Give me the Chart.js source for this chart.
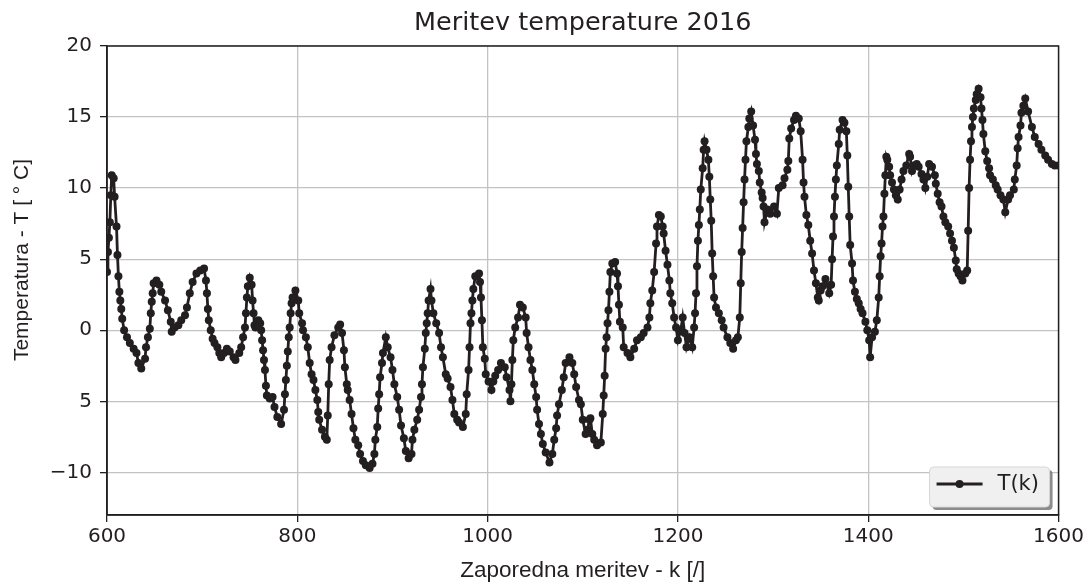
<!DOCTYPE html>
<html>
<head>
<meta charset="utf-8">
<script src="https://cdn.jsdelivr.net/npm/chart.js@4.4.1/dist/chart.umd.min.js"></script>
<style>
html, body { margin: 0; padding: 0; background: #fff; }
#wrap { width: 1087px; height: 585px; }
</style>
</head>
<body>
<div id="wrap"><canvas id="tempChart"></canvas></div>
<script>
const kValues = [
  600, 601, 602, 603, 604, 605, 607, 608, 610, 611, 612, 613, 614, 615, 616, 618, 621, 624, 628, 631,
  633, 636, 640, 641, 643, 645, 646, 647, 648, 649, 652, 655, 657, 661, 664, 667, 668, 671, 675, 678,
  682, 684, 687, 690, 694, 698, 702, 704, 705, 706, 707, 709, 711, 713, 716, 718, 720, 723, 726, 729,
  733, 735, 739, 741, 743, 745, 746, 747, 748, 750, 752, 753, 754, 755, 756, 759, 761, 762, 763, 764,
  765, 766, 767, 768, 771, 774, 776, 779, 783, 786, 787, 788, 789, 790, 791, 792, 793, 794, 795, 798,
  801, 802, 805, 806, 809, 811, 813, 815, 817, 819, 821, 822, 823, 826, 829, 831, 832, 833, 834, 836,
  839, 843, 845, 847, 849, 850, 852, 853, 855, 857, 859, 861, 864, 866, 869, 872, 876, 879, 881, 882,
  884, 885, 886, 887, 889, 890, 893, 895, 898, 900, 902, 905, 907, 909, 912, 914, 917, 920, 921, 923,
  926, 928, 930, 931, 932, 934, 935, 936, 937, 938, 940, 941, 943, 946, 949, 951, 953, 956, 958, 961,
  963, 965, 968, 970, 974, 977, 978, 980, 981, 982, 983, 984, 985, 987, 991, 992, 993, 994, 995, 997,
  998, 1001, 1004, 1006, 1008, 1011, 1014, 1018, 1020, 1023, 1024, 1025, 1026, 1027, 1029, 1032, 1034, 1037, 1040, 1041,
  1043, 1045, 1047, 1049, 1051, 1052, 1054, 1056, 1058, 1061, 1065, 1068, 1070, 1072, 1073, 1075, 1078, 1080, 1082, 1086,
  1089, 1091, 1093, 1096, 1098, 1100, 1103, 1105, 1107, 1108, 1110, 1112, 1115, 1119, 1121, 1122, 1123, 1124, 1125, 1126,
  1127, 1128, 1129, 1131, 1134, 1136, 1137, 1138, 1139, 1142, 1143, 1147, 1150, 1154, 1157, 1161, 1164, 1168, 1170, 1171,
  1173, 1175, 1177, 1178, 1180, 1182, 1184, 1185, 1187, 1189, 1191, 1192, 1194, 1196, 1198, 1200, 1203, 1205, 1207, 1209,
  1212, 1215, 1217, 1218, 1219, 1220, 1221, 1222, 1223, 1224, 1226, 1227, 1228, 1230, 1232, 1233, 1234, 1235, 1236, 1237,
  1238, 1240, 1243, 1246, 1248, 1252, 1255, 1258, 1261, 1263, 1265, 1266, 1267, 1268, 1269, 1270, 1271, 1272, 1274, 1275,
  1277, 1279, 1281, 1282, 1283, 1285, 1286, 1288, 1289, 1290, 1291, 1294, 1297, 1301, 1304, 1306, 1310, 1312, 1315, 1316,
  1317, 1319, 1322, 1324, 1327, 1329, 1331, 1332, 1333, 1335, 1337, 1339, 1341, 1343, 1345, 1347, 1348, 1350, 1352, 1355,
  1359, 1361, 1362, 1363, 1364, 1365, 1366, 1367, 1369, 1370, 1373, 1375, 1377, 1378, 1379, 1380, 1381, 1383, 1384, 1386,
  1388, 1390, 1392, 1394, 1397, 1399, 1401, 1402, 1404, 1407, 1409, 1411, 1412, 1413, 1414, 1415, 1416, 1417, 1418, 1419,
  1420, 1422, 1423, 1425, 1427, 1429, 1431, 1433, 1435, 1437, 1440, 1443, 1444, 1446, 1448, 1451, 1453, 1456, 1458, 1460,
  1462, 1464, 1467, 1470, 1471, 1473, 1475, 1477, 1479, 1481, 1484, 1486, 1488, 1490, 1492, 1493, 1495, 1497, 1499, 1502,
  1504, 1505, 1506, 1507, 1508, 1509, 1510, 1511, 1513, 1514, 1516, 1518, 1519, 1520, 1521, 1523, 1525, 1527, 1528, 1531,
  1534, 1536, 1539, 1542, 1544, 1547, 1549, 1553, 1554, 1556, 1557, 1558, 1560, 1561, 1563, 1565, 1568, 1572, 1575, 1579,
  1582, 1586, 1589, 1593, 1596, 1600
];
const tempValues = [
  4.1, 5.5, 6.5, 7.6, 9.5, 10.9, 10.7, 9.4, 7.3, 5.3, 3.8, 2.7, 2.1, 1.5, 0.8, 0.0, -0.5, -0.9, -1.3, -1.6,
  -2.3, -2.7, -2.0, -1.2, -0.5, 0.1, 1.2, 2.0, 2.6, 3.3, 3.5, 3.2, 2.7, 2.1, 1.4, 0.6, -0.1, 0.2, 0.35, 0.7,
  1.05, 1.6, 2.6, 3.4, 4.0, 4.2, 4.35, 3.5, 2.6, 1.5, 0.7, 0.0, -0.6, -0.9, -1.2, -1.6, -1.9, -1.6, -1.3, -1.5,
  -1.9, -2.1, -1.6, -1.2, -0.5, 0.2, 1.2, 2.3, 3.1, 3.7, 3.2, 2.1, 1.2, 0.35, 0.2, 0.7, 0.5, 0.0, -0.7, -1.4,
  -2.1, -2.8, -3.9, -4.6, -4.8, -4.7, -5.4, -6.1, -6.6, -5.6, -4.5, -3.5, -2.5, -1.5, -0.5, 0.2, 1.2, 1.9, 2.3, 2.8,
  2.1, 1.2, 0.5, 0.0, -0.5, -1.2, -2.3, -3.1, -3.5, -4.2, -4.9, -5.75, -6.3, -7.0, -7.5, -7.7, -6.0, -3.8, -2.1, -1.2,
  -0.35, 0.2, 0.4, -0.2, -1.4, -2.6, -3.8, -4.2, -4.9, -5.9, -6.9, -7.7, -8.1, -8.7, -9.2, -9.5, -9.7, -9.4, -8.7, -7.7,
  -6.8, -5.5, -4.5, -3.3, -2.3, -1.6, -0.5, -1.2, -1.9, -2.8, -3.8, -4.7, -5.6, -6.7, -7.6, -8.5, -9.0, -8.7, -7.7, -7.0,
  -6.3, -5.6, -4.7, -3.8, -2.6, -1.3, -0.2, 0.5, 1.2, 2.1, 2.9, 2.1, 1.2, 0.5, -0.2, -1.2, -1.9, -3.1, -3.4, -4.0,
  -4.9, -5.9, -6.3, -6.5, -6.8, -5.9, -4.5, -2.8, -1.2, 0.5, 1.2, 2.1, 2.9, 3.8, 4.0, 3.4, 2.3, 0.7, -1.2, -2.0,
  -3.1, -3.6, -4.2, -3.6, -3.2, -2.8, -2.3, -2.6, -3.3, -4.2, -5.0, -3.8, -2.1, -0.7, 0.2, 0.9, 1.8, 1.6, 0.9, -0.2,
  -1.2, -2.1, -2.8, -3.8, -4.7, -5.6, -6.6, -7.3, -8.0, -8.6, -9.3, -8.7, -7.7, -6.9, -6.0, -5.2, -4.2, -3.3, -2.3, -1.9,
  -2.3, -3.1, -4.0, -4.9, -5.2, -6.3, -7.3, -7.0, -6.3, -6.2, -7.3, -7.7, -8.1, -7.9, -5.9, -4.6, -3.2, -1.3, -0.5, 0.5,
  1.4, 2.7, 4.1, 4.7, 4.8, 4.0, 3.1, 1.8, 0.6, 0.2, -1.2, -1.6, -1.9, -1.3, -0.7, -0.5, -0.2, 0.2, 0.9, 1.9,
  2.8, 4.1, 6.1, 7.3, 8.1, 8.0, 7.3, 6.8, 5.6, 4.6, 3.5, 2.6, 1.9, 0.9, 0.2, -0.7, 0.0, 0.9, -0.2, -1.2,
  -0.5, -1.2, 0.2, 1.2, 2.6, 4.5, 6.3, 7.4, 8.5, 9.9, 11.4, 12.7, 13.3, 12.7, 12.0, 10.8, 9.2, 7.7, 5.4, 3.8,
  2.3, 1.6, 1.2, 0.7, 0.2, -0.5, -0.9, -1.3, -0.7, -0.5, 0.9, 3.3, 5.5, 7.2, 9.0, 10.6, 12.0, 13.3, 14.3, 14.9,
  15.4, 14.4, 13.4, 12.4, 11.7, 11.2, 10.4, 9.7, 9.3, 8.7, 7.6, 8.5, 8.2, 8.7, 8.2, 10.0, 10.2, 10.7, 11.3, 11.9,
  13.5, 14.2, 14.8, 15.1, 14.9, 14.0, 12.0, 10.4, 9.4, 8.1, 7.4, 6.3, 5.4, 4.2, 3.3, 2.3, 2.1, 2.8, 3.1, 3.6,
  2.6, 3.2, 5.0, 6.6, 8.0, 9.4, 10.6, 11.6, 13.1, 14.1, 14.8, 14.6, 14.0, 12.3, 10.1, 8.0, 6.0, 4.7, 3.5, 2.7,
  2.2, 1.9, 1.5, 1.2, 0.6, 0.0, -0.7, -1.9, -0.5, -0.1, 0.7, 2.3, 3.8, 5.2, 6.1, 7.3, 8.0, 9.6, 10.9, 12.2,
  12.0, 11.5, 10.9, 10.4, 9.9, 9.5, 9.2, 9.9, 10.6, 11.2, 11.6, 12.4, 12.2, 11.2, 11.6, 11.7, 11.5, 11.0, 10.6, 10.0,
  10.8, 11.7, 11.5, 10.9, 10.3, 9.6, 9.0, 8.7, 8.0, 7.6, 7.3, 6.8, 6.3, 5.8, 4.9, 4.3, 4.0, 3.8, 3.5, 4.0,
  4.2, 7.0, 10.0, 12.0, 13.3, 14.3, 15.0, 15.6, 16.2, 16.6, 17.0, 16.4, 15.6, 14.8, 13.8, 12.6, 11.9, 11.4, 10.9, 10.6,
  10.2, 9.9, 9.5, 9.2, 8.3, 9.2, 9.5, 9.9, 10.6, 11.6, 12.8, 13.6, 14.4, 15.3, 15.8, 16.3, 15.4, 14.3, 13.6, 13.1,
  12.7, 12.3, 12.0, 11.7, 11.6, 11.6
];
const xTicks = [600, 800, 1000, 1200, 1400, 1600];
const yTicks = [-10, -5, 0, 5, 10, 15, 20];
const yTickLabels = ['\u221210', '5', '0', '5', '10', '15', '20'];

const ink = '#231f20';
const gridGray = '#c3c3c3';

// title, y label, top/right frame and the legend box are drawn by hand
const decorPlugin = {
  id: 'decor',
  beforeDatasetsDraw(chart) {
    const a = chart.chartArea, ctx = chart.ctx;
    ctx.save();
    ctx.strokeStyle = ink;
    ctx.lineWidth = 1.5;
    ctx.strokeRect(a.left, a.top, a.right - a.left, a.bottom - a.top);
    ctx.restore();
  },
  afterDraw(chart) {
    const a = chart.chartArea, ctx = chart.ctx;
    ctx.save();
    ctx.fillStyle = ink;
    ctx.font = '25.5px "DejaVu Sans"';
    ctx.textAlign = 'center';
    ctx.textBaseline = 'middle';
    ctx.fillText('Meritev temperature 2016', (a.left + a.right) / 2, 23);

    // y axis label
    ctx.save();
    ctx.translate(22, 260);
    ctx.rotate(-Math.PI / 2);
    ctx.font = '21px "Liberation Sans"';
    ctx.fillText('Temperatura - T [ ° C]', 0, 0);
    ctx.restore();

    // legend
    const w = 120, h = 40;
    const x = a.right - 9 - w, y = a.bottom - 8 - h;
    ctx.fillStyle = 'rgba(110,110,110,0.8)';
    ctx.beginPath();
    ctx.roundRect(x + 3, y + 3, w, h, 4);
    ctx.fill();
    ctx.fillStyle = '#f0f0f0';
    ctx.strokeStyle = '#d6d6d6';
    ctx.lineWidth = 1;
    ctx.beginPath();
    ctx.roundRect(x, y, w, h, 4);
    ctx.fill();
    ctx.stroke();
    const ly = y + 17;
    ctx.strokeStyle = ink;
    ctx.lineWidth = 2.8;
    ctx.beginPath();
    ctx.moveTo(x + 7, ly);
    ctx.lineTo(x + 53, ly);
    ctx.stroke();
    ctx.fillStyle = ink;
    ctx.beginPath();
    ctx.arc(x + 30, ly, 4, 0, Math.PI * 2);
    ctx.fill();
    ctx.font = '21px "DejaVu Sans"';
    ctx.textAlign = 'left';
    ctx.textBaseline = 'middle';
    ctx.fillText('T(k)', x + 68, ly + 1);
    ctx.restore();
  }
};

const ctx1 = document.getElementById('tempChart');
const tempChart = new Chart(ctx1, {
  type: 'line',
  data: {
    labels: kValues,
    datasets: [{
      label: 'T(k)',
      data: kValues.map((k, i) => ({ x: k, y: tempValues[i] })),
      borderColor: ink,
      backgroundColor: ink,
      borderWidth: 2.8,
      pointRadius: 4,
      pointBorderWidth: 0,
      pointBackgroundColor: ink,
      tension: 0,
      fill: false
    }]
  },
  plugins: [decorPlugin],
  options: {
    responsive: true,
    maintainAspectRatio: false,
    animation: false,
    layout: { padding: { top: 46, right: 27, left: 0, bottom: 0 } },
    plugins: {
      legend: { display: false },
      title: { display: false },
      tooltip: { enabled: false }
    },
    scales: {
      x: {
        type: 'linear',
        min: 600,
        max: 1600,
        afterBuildTicks: s => { s.ticks = xTicks.map(v => ({ value: v })); },
        afterFit: s => { s.height = 70; },
        ticks: {
          color: ink,
          font: { family: 'DejaVu Sans', size: 20 },
          padding: 3,
          maxRotation: 0,
          callback: v => String(v)
        },
        grid: { color: gridGray, lineWidth: 1.3, tickLength: 7, tickColor: ink },
        border: { color: ink, width: 1.5 },
        title: {
          display: true,
          text: 'Zaporedna meritev - k [/]',
          color: ink,
          font: { family: 'Liberation Sans', size: 22.5 },
          padding: { top: 0, bottom: 1 }
        }
      },
      y: {
        min: -13,
        max: 20,
        afterBuildTicks: s => { s.ticks = yTicks.map(v => ({ value: v })); },
        afterFit: s => { s.width = 107; },
        ticks: {
          color: ink,
          font: { family: 'DejaVu Sans', size: 20 },
          padding: 8,
          callback: v => yTickLabels[yTicks.indexOf(v)]
        },
        grid: { color: gridGray, lineWidth: 1.3, tickLength: 7, tickColor: ink },
        border: { color: ink, width: 1.5 }
      }
    }
  }
});
</script>
</body>
</html>
